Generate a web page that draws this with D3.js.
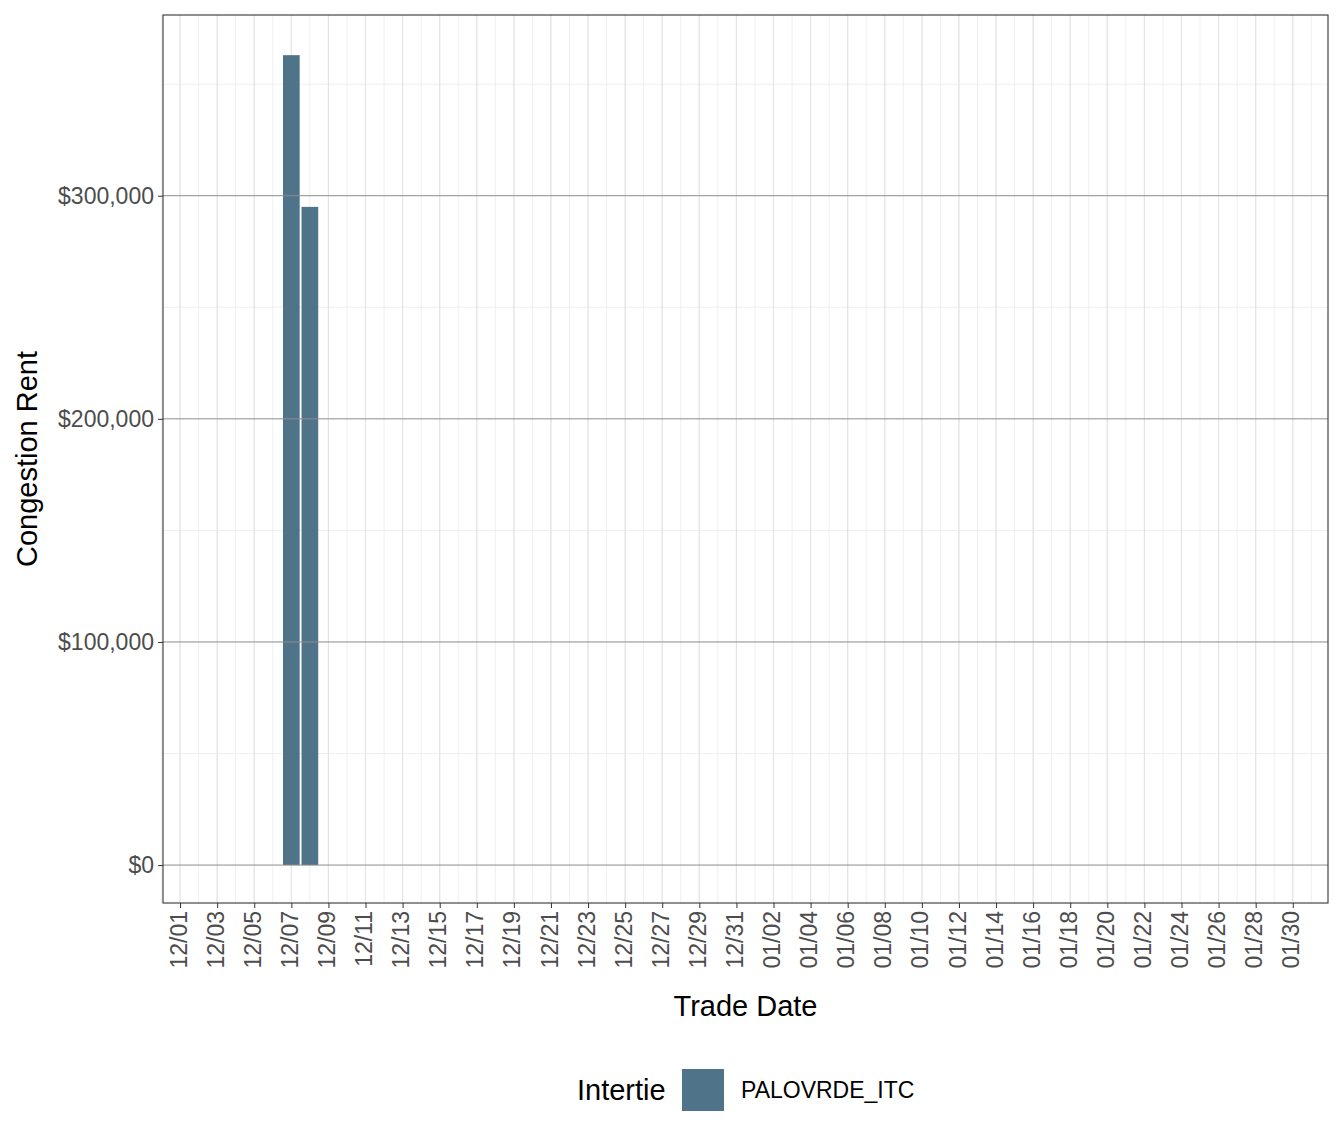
<!DOCTYPE html>
<html><head><meta charset="utf-8">
<script src="https://cdn.jsdelivr.net/npm/d3@7"></script>
<style>body{margin:0;background:#fff;font-family:"Liberation Sans",Arial,sans-serif}</style>
</head><body><svg id="chart"></svg>
<script>
// trade dates 12/01 .. 01/30, values in $
const startDate = new Date(2021, 11, 1)
const dayCount = 61
const dates = d3.range(dayCount).map(i => d3.timeDay.offset(startDate, i))
const rents = dates.map(() => 0)
rents[6] = 363000   // 12/07
rents[7] = 295000   // 12/08
const yTicks = [0, 100000, 200000, 300000]
const seriesName = 'PALOVRDE_ITC'
const barColor = '#4f7489'

const W = 1344, H = 1142
const margin = {top: 15, right: 16, bottom: 239, left: 163}
const width = W - margin.left - margin.right
const height = H - margin.top - margin.bottom

const svg = d3.select('#chart').attr('width', W).attr('height', H)
const g = svg.append('g').attr('transform', `translate(${margin.left},${margin.top})`)

const x = d3.scaleLinear().domain([-0.92, 61.9]).range([0, width])
const y = d3.scaleLinear().domain([-17000, 381000]).range([height, 0])
const bw = x(0.9) - x(0)

// minor grid
g.selectAll('.vminor').data(d3.range(-1, 62, 1)).join('line')
  .attr('x1', d => x(d)).attr('x2', d => x(d)).attr('y1', 0).attr('y2', height)
  .attr('stroke', '#ebebeb').attr('stroke-width', 0.8)
g.selectAll('.hminor').data([50000, 150000, 250000, 350000]).join('line')
  .attr('x1', 0).attr('x2', width).attr('y1', d => y(d)).attr('y2', d => y(d))
  .attr('stroke', '#ebebeb').attr('stroke-width', 0.8)
g.selectAll('.vmajor').data(d3.range(0, 61, 2)).join('line')
  .attr('x1', d => x(d)).attr('x2', d => x(d)).attr('y1', 0).attr('y2', height)
  .attr('stroke', '#e3e3e3').attr('stroke-width', 1.1)

g.selectAll('.bar').data(rents).join('rect')
  .attr('x', (d, i) => x(i) - bw / 2).attr('width', bw)
  .attr('y', d => y(Math.max(d, 0))).attr('height', d => Math.abs(y(d) - y(0)))
  .attr('fill', barColor)

g.selectAll('.hmajor').data(yTicks).join('line')
  .attr('x1', 0).attr('x2', width).attr('y1', d => y(d)).attr('y2', d => y(d))
  .attr('stroke', '#8c8c8c').attr('stroke-width', 1)

g.append('rect').attr('width', width).attr('height', height)
  .attr('fill', 'none').attr('stroke', '#333').attr('stroke-width', 1.1)

const yAxis = d3.axisLeft(y).tickValues(yTicks).tickSize(5).tickPadding(4)
  .tickFormat(d => '$' + d3.format(',')(d))
const yG = g.append('g').call(yAxis)
yG.select('.domain').remove()
yG.selectAll('line').attr('stroke', '#333')
yG.selectAll('text').attr('font-size', 23).attr('fill', '#4d4d4d')
  .attr('font-family', '"Liberation Sans",Arial,sans-serif')

const xAxis = d3.axisBottom(x).tickValues(d3.range(0, 61, 2)).tickSize(5).tickPadding(4)
  .tickFormat(i => d3.timeFormat('%m/%d')(dates[i]))
const xG = g.append('g').attr('transform', `translate(0,${height})`).call(xAxis)
xG.select('.domain').remove()
xG.selectAll('line').attr('stroke', '#333')
xG.selectAll('text').attr('font-size', 23).attr('fill', '#4d4d4d')
  .attr('font-family', '"Liberation Sans",Arial,sans-serif')
  .attr('transform', 'rotate(-90)').attr('text-anchor', 'end')
  .attr('dx', '-8').attr('dy', '0').attr('x', 0).attr('y', 0)
  .style('dominant-baseline', 'middle')

svg.append('text').attr('x', margin.left + width / 2).attr('y', 1016)
  .attr('text-anchor', 'middle').attr('font-size', 29).text('Trade Date')
svg.append('text').attr('transform', `translate(37,${margin.top + height / 2}) rotate(-90)`)
  .attr('text-anchor', 'middle').attr('font-size', 29).text('Congestion Rent')

// legend
svg.append('text').attr('x', 577).attr('y', 1100).attr('font-size', 29).text('Intertie')
svg.append('rect').attr('x', 682).attr('y', 1069).attr('width', 42).attr('height', 42).attr('fill', barColor)
svg.append('text').attr('x', 741).attr('y', 1098).attr('font-size', 23).text(seriesName)
</script></body></html>
